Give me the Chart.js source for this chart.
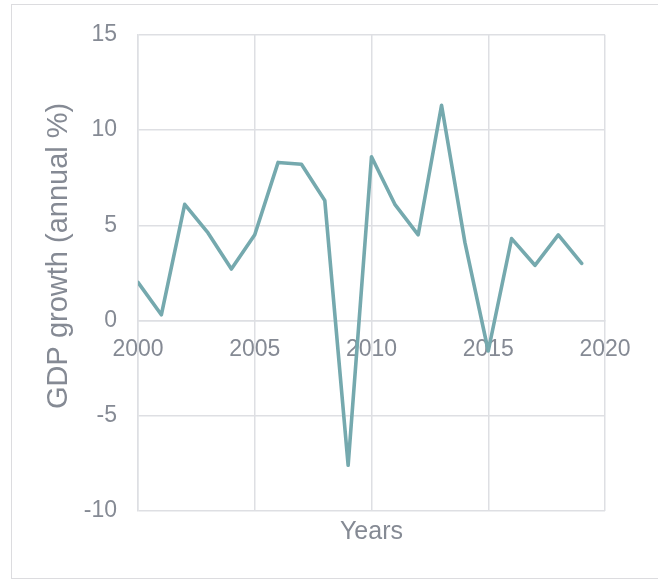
<!DOCTYPE html>
<html>
<head>
<meta charset="utf-8">
<script src="https://cdn.jsdelivr.net/npm/chart.js@4/dist/chart.umd.min.js"></script>
<style>
  html, body { margin: 0; padding: 0; background: #ffffff; overflow: hidden; }
  body { width: 658px; height: 579px; position: relative; }
  .frame { position: absolute; left: 11px; top: 4px; width: 700px; height: 573px; border: 1px solid #dcdcdf; box-sizing: content-box; }
  #chart { position: absolute; left: 0; top: 0; }
</style>
</head>
<body>
<div class="frame"></div>
<canvas id="chart" width="658" height="579"></canvas>
<script>
// Annual GDP growth, 2000-2019
const years = [2000, 2001, 2002, 2003, 2004, 2005, 2006, 2007, 2008, 2009,
               2010, 2011, 2012, 2013, 2014, 2015, 2016, 2017, 2018, 2019];
const gdpGrowth = [2.0, 0.3, 6.1, 4.6, 2.7, 4.5, 8.3, 8.2, 6.3, -7.6,
                   8.6, 6.1, 4.5, 11.3, 4.1, -1.6, 4.3, 2.9, 4.5, 3.0];

const xTicks = [2000, 2005, 2010, 2015, 2020];
const yTicks = [-10, -5, 0, 5, 10, 15];

const xTitle = 'Years';
const yTitle = 'GDP growth (annual %)';

const textColor = '#858a94';
const gridColor = '#dedfe3';
const lineColor = '#75a9ae';
const fontFamily = '"Liberation Sans", Arial, sans-serif';

// Vertical axis title, drawn a little above the plot's vertical centre
const yTitlePlugin = {
  id: 'yTitle',
  afterDraw(chart) {
    const { ctx, chartArea } = chart;
    const cy = (chartArea.top + chartArea.bottom) / 2 - 17;
    ctx.save();
    ctx.translate(59, cy);
    ctx.rotate(-Math.PI / 2);
    ctx.fillStyle = textColor;
    ctx.font = '29px ' + fontFamily;
    ctx.textAlign = 'center';
    ctx.textBaseline = 'middle';
    ctx.fillText(yTitle, 0, 0);
    ctx.restore();
  }
};

new Chart(document.getElementById('chart'), {
  type: 'line',
  data: {
    datasets: [{
      data: years.map((yr, i) => ({ x: yr, y: gdpGrowth[i] })),
      borderColor: lineColor,
      borderWidth: 3.6,
      borderJoinStyle: 'round',
      borderCapStyle: 'round',
      pointRadius: 0,
      pointHoverRadius: 0,
      fill: false,
      tension: 0
    }]
  },
  plugins: [yTitlePlugin],
  options: {
    responsive: false,
    animation: false,
    layout: { padding: { top: 34, right: 53, bottom: 0, left: 0 } },
    plugins: { legend: { display: false }, tooltip: { enabled: false } },
    scales: {
      x: {
        type: 'linear',
        position: { y: 0 },
        min: xTicks[0],
        max: xTicks[xTicks.length - 1],
        afterBuildTicks: (scale) => { scale.ticks = xTicks.map(v => ({ value: v })); },
        afterFit: (scale) => { scale.height = 0; },
        grid: { color: gridColor, lineWidth: 1.5, drawTicks: false },
        border: { color: gridColor, width: 1.5 },
        ticks: {
          color: textColor,
          padding: 15,
          maxRotation: 0,
          font: { family: fontFamily, size: 23 },
          callback: (v) => String(v)
        },
        title: { display: false }
      },
      xt: {
        type: 'linear',
        position: 'bottom',
        axis: 'x',
        min: xTicks[0],
        max: xTicks[xTicks.length - 1],
        afterFit: (scale) => { scale.height = 68; },
        grid: { display: false, drawTicks: false },
        border: { display: false },
        ticks: { display: false },
        title: {
          display: true,
          text: xTitle,
          color: textColor,
          font: { family: fontFamily, size: 25 },
          padding: { top: 0, bottom: 32 }
        }
      },
      y: {
        type: 'linear',
        position: 'left',
        min: yTicks[0],
        max: yTicks[yTicks.length - 1],
        afterBuildTicks: (scale) => { scale.ticks = yTicks.map(v => ({ value: v })); },
        afterFit: (scale) => { scale.width = 138; },
        grid: { color: gridColor, lineWidth: 1.5, drawTicks: false },
        border: { color: gridColor, width: 1.5 },
        ticks: {
          color: textColor,
          padding: 21,
          font: { family: fontFamily, size: 23 },
          callback: (v) => String(v)
        },
        title: { display: false }
      }
    }
  }
});
</script>
</body>
</html>
